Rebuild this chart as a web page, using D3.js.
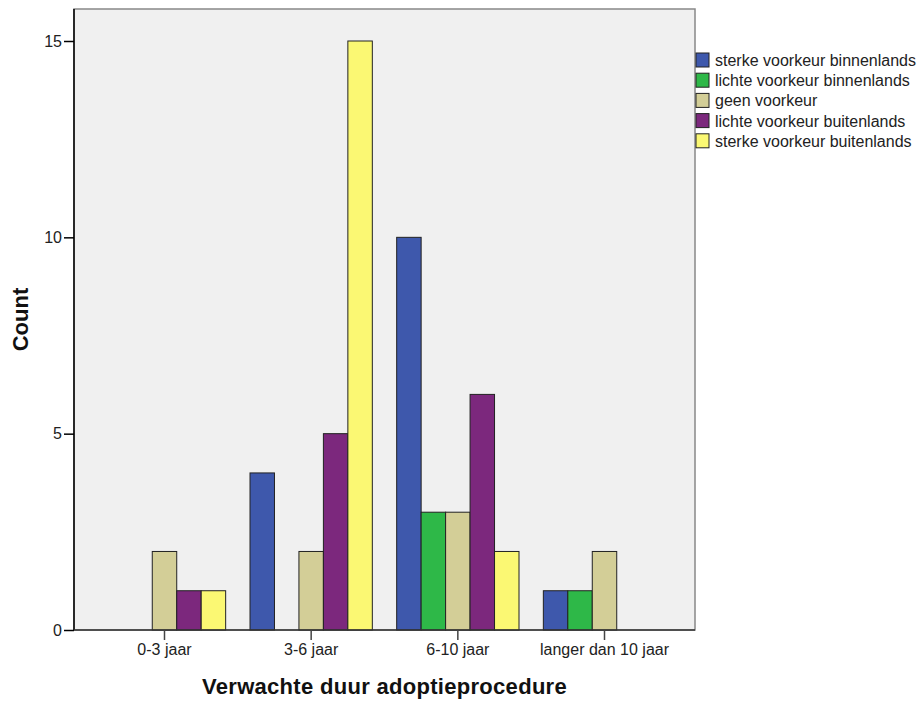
<!DOCTYPE html>
<html><head><meta charset="utf-8">
<script src="https://cdn.jsdelivr.net/npm/d3@7"></script>
<style>body{margin:0;background:#fff}text{font-family:Arial,"Liberation Sans",sans-serif}</style>
</head><body><svg id="c" width="924" height="703"></svg>
<script>
const categories = ["0-3 jaar","3-6 jaar","6-10 jaar","langer dan 10 jaar"];
const seriesNames = ["sterke voorkeur binnenlands","lichte voorkeur binnenlands","geen voorkeur","lichte voorkeur buitenlands","sterke voorkeur buitenlands"];
const seriesColors = ["#3e58ac","#2eb848","#d3ce97","#7c287d","#fbf873"];
const sterkeBinnen = [0,4,10,1];
const lichteBinnen = [0,0,3,1];
const geen = [2,2,3,2];
const lichteBuiten = [1,5,6,0];
const sterkeBuiten = [1,15,2,0];
const yTicks = [0,5,10,15];
const values = [sterkeBinnen, lichteBinnen, geen, lichteBuiten, sterkeBuiten];

const svg = d3.select("#c");
const L=74, R=695, T=9, B=630;
const x = d3.scaleBand().domain(categories).range([L,R]).paddingInner(0.166).paddingOuter(0.2);
const xs = d3.scaleBand().domain(seriesNames).range([0,x.bandwidth()]);
const y = d3.scaleLinear().domain([0,15]).range([B,41]);

svg.append("rect").attr("x",L).attr("y",T).attr("width",R-L).attr("height",B-T).attr("fill","#f0f0f0").attr("stroke","#888").attr("stroke-width",1.5);

const g = svg.append("g");
categories.forEach((c,ci)=>{
  seriesNames.forEach((s,si)=>{
    const v = values[si][ci];
    if(!v) return;
    g.append("rect").attr("x",x(c)+xs(s)).attr("y",y(v)).attr("width",xs.bandwidth()).attr("height",y(0)-y(v))
     .attr("fill",seriesColors[si]).attr("stroke","#222").attr("stroke-width",1);
  });
});

const ya = svg.append("g").attr("transform",`translate(${L},0)`).call(d3.axisLeft(y).tickValues(yTicks).tickSize(10).tickPadding(2));
ya.select(".domain").attr("stroke","#000").attr("stroke-width",1.5).attr("d",`M0,${T}V${B}`);
ya.selectAll("text").attr("font-size",16).attr("fill","#222").attr("font-family","Arial,'Liberation Sans',sans-serif");
ya.selectAll(".tick line").attr("stroke","#000").attr("stroke-width",1.5);

const xa = svg.append("g").attr("transform",`translate(0,${B})`).call(d3.axisBottom(x).tickSize(10).tickPadding(4));
xa.select(".domain").attr("stroke","#333").attr("stroke-width",1.5).attr("d",`M${L},0H${R}`);
xa.selectAll("text").attr("font-size",16).attr("fill","#222").attr("font-family","Arial,'Liberation Sans',sans-serif");
xa.selectAll(".tick line").attr("stroke","#444").attr("stroke-width",1.5);

svg.append("text").attr("x",(L+R)/2).attr("y",694).attr("text-anchor","middle").attr("font-size",22).attr("font-weight","bold").attr("letter-spacing",0.3).attr("fill","#111").text("Verwachte duur adoptieprocedure");
svg.append("text").attr("transform",`translate(28,${(T+B)/2}) rotate(-90)`).attr("text-anchor","middle").attr("font-size",22).attr("font-weight","bold").attr("fill","#111").text("Count");

const lg = svg.append("g");
seriesNames.forEach((s,i)=>{
  const yy = 53 + i*20.2;
  lg.append("rect").attr("x",696).attr("y",yy).attr("width",13).attr("height",14).attr("fill",seriesColors[i]).attr("stroke","#222").attr("stroke-width",1);
  lg.append("text").attr("x",715).attr("y",yy+13).attr("font-size",16).attr("fill","#222").text(s);
});
</script></body></html>
